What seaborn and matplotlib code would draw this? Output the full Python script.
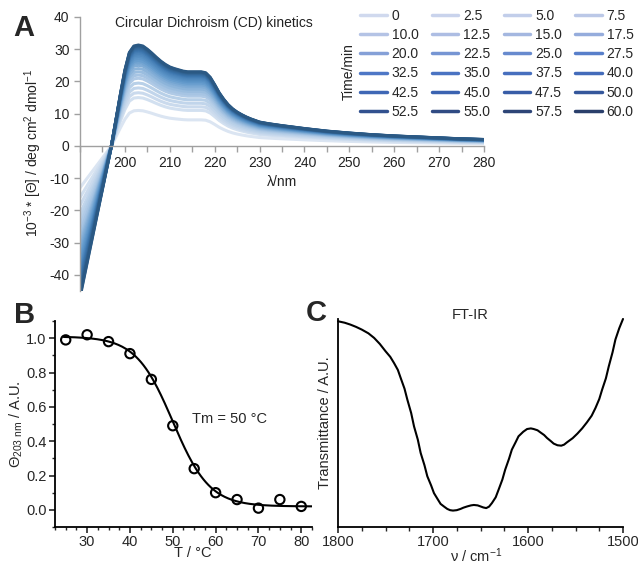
import numpy as np
import pandas as pd
import matplotlib
matplotlib.use("Agg")
import matplotlib.pyplot as plt
import seaborn as sns
from matplotlib.colors import LinearSegmentedColormap
from matplotlib.lines import Line2D
from matplotlib.ticker import MultipleLocator

# CD kinetics (panel A)
times = [0, 2.5, 5.0, 7.5, 10.0, 12.5, 15.0, 17.5, 20.0, 22.5, 25.0, 27.5,
         32.5, 35.0, 37.5, 40.0, 42.5, 45.0, 47.5, 50.0, 52.5, 55.0, 57.5, 60.0]
time_labels = ["0" if t == 0 else f"{t:.1f}" for t in times]
# ellipticity read at 203 nm (maximum) and at 190 nm for each time point
theta_203 = [11, 15, 16.5, 18, 19.5, 21, 22, 23, 24, 25, 25.8, 26.5,
             27.2, 27.8, 28.3, 28.8, 29.3, 29.7, 30, 30.3, 30.6, 30.9, 31.1, 31.3]
theta_190 = [-13, -16, -18.5, -21, -23, -25, -27, -29, -30.5, -32, -33.5, -35,
             -36.5, -38, -39, -40, -41, -42, -43, -44, -45, -45.5, -46.5, -47]
wavelength = list(range(190, 231)) + [232, 235, 240, 245, 250, 255, 260, 265, 270, 275, 280]
# spectrum at 60 min
cd_final = [-47, -40.2, -33.5, -26.8, -20.1, -13.4, -6.7, 0.0, 8, 16,
            23.5, 29, 31, 31.3, 31, 30, 28.8, 27.5, 26.3, 25.3,
            24.5, 24, 23.6, 23.2, 23, 23, 23, 23, 22.7, 21.3,
            19, 16.5, 14.5, 12.8, 11.5, 10.5, 9.7, 9, 8.4, 7.9,
            7.4, 6.9, 6.3, 5.4, 4.6, 4.0, 3.5, 3.1, 2.8, 2.5, 2.2, 2.0]

# thermal denaturation (panel B)
temp = [25, 30, 35, 40, 45, 50, 55, 60, 65, 70, 75, 80]
theta_norm = [0.99, 1.02, 0.98, 0.91, 0.76, 0.49, 0.24, 0.10, 0.06, 0.01, 0.06, 0.02]
fit_top, fit_bottom, fit_tm, fit_slope = 1.01, 0.02, 50.0, 4.3

# FT-IR (panel C)
ir_wavenumber = [1800, 1793, 1787, 1781, 1775, 1768, 1762, 1756, 1750, 1745, 1741, 1737, 1734,
                 1730, 1727, 1723, 1720, 1716, 1713, 1709, 1706, 1702, 1699, 1695, 1692, 1688,
                 1685, 1682, 1679, 1675, 1671, 1668, 1664, 1660, 1657, 1653, 1650, 1647, 1644,
                 1641, 1638, 1634, 1631, 1627, 1624, 1620, 1617, 1613, 1610, 1605, 1601, 1597,
                 1594, 1590, 1587, 1583, 1580, 1576, 1573, 1569, 1565, 1562, 1559, 1553, 1548,
                 1543, 1538, 1533, 1529, 1525, 1522, 1518, 1515, 1511, 1508, 1504, 1500]
ir_transmittance = [0.989, 0.982, 0.973, 0.962, 0.949, 0.931, 0.909, 0.880, 0.845, 0.818, 0.788,
                    0.755, 0.716, 0.665, 0.612, 0.548, 0.484, 0.420, 0.356, 0.297, 0.244, 0.200,
                    0.163, 0.133, 0.111, 0.097, 0.087, 0.081, 0.079, 0.081, 0.087, 0.093, 0.099,
                    0.104, 0.106, 0.104, 0.099, 0.094, 0.091, 0.098, 0.115, 0.143, 0.179, 0.228,
                    0.276, 0.328, 0.372, 0.408, 0.436, 0.458, 0.471, 0.474, 0.471, 0.465, 0.455,
                    0.442, 0.428, 0.413, 0.401, 0.393, 0.391, 0.396, 0.407, 0.427, 0.449, 0.474,
                    0.503, 0.535, 0.572, 0.615, 0.660, 0.715, 0.772, 0.840, 0.901, 0.955, 1.0]

sns.set_theme(style="ticks")
plt.rcParams['font.family'] = ['Liberation Sans', 'DejaVu Sans']
plt.rcParams['mathtext.fontset'] = 'custom'
plt.rcParams['mathtext.rm'] = 'Liberation Sans'
plt.rcParams['mathtext.it'] = 'Liberation Sans:italic'
plt.rcParams['axes.unicode_minus'] = False
plt.rcParams['font.size'] = 10

fig = plt.figure(figsize=(6.38, 5.7), dpi=100)

# Panel A
rows = []
cd_final_arr = np.array(cd_final)
for t, lab, top, low in zip(times, time_labels, theta_203, theta_190):
    vals = np.where(cd_final_arr >= 0, cd_final_arr * top / max(cd_final),
                    cd_final_arr * low / cd_final[0])
    for w, v in zip(wavelength, vals):
        rows.append({'time': lab, 'wl': w, 'theta': v})
cd = pd.DataFrame(rows)

plot_cmap = LinearSegmentedColormap.from_list(
    'cdplot', ["#dbe5f2", "#a9c6e4", "#6199cc", "#3c76ae", "#2b5984"])
legend_cmap = LinearSegmentedColormap.from_list(
    'cdleg', ["#d0d9ee", "#a7b9e1", "#5079c8", "#3a62b0", "#2a3f6b"])
n = len(times)
plot_pal = {lab: plot_cmap(i / (n - 1)) for i, lab in enumerate(time_labels)}

axA = fig.add_axes([0.1254, 0.4895, 0.6332, 0.4807])
sns.lineplot(data=cd, x='wl', y='theta', hue='time', hue_order=time_labels,
             palette=plot_pal, lw=2.2, legend=False, ax=axA)
axA.set_xlim(190, 280)
axA.set_ylim(-45, 40)
axA.spines['top'].set_visible(False)
axA.spines['right'].set_visible(False)
axA.spines['bottom'].set_position(('data', 0))
for s in ['left', 'bottom']:
    axA.spines[s].set_color('#a0a0a0')
    axA.spines[s].set_linewidth(1.0)
axA.set_xticks(range(200, 281, 10))
axA.xaxis.set_minor_locator(MultipleLocator(5))
axA.set_yticks(range(-40, 41, 10))
axA.tick_params(axis='both', which='both', colors='#a0a0a0', labelcolor='#222222',
                labelsize=10, length=4, width=1, direction='out')
axA.set_xlabel('')
axA.set_ylabel('')
axA.text(235, -11.2, 'λ/nm', ha='center', va='center', fontsize=10, color='#222222')
axA.text(219.8, 38, 'Circular Dichroism (CD) kinetics', ha='center', va='center',
         fontsize=10, color='#222222')
fig.text(0.052, 0.732, '10$^{-3}$ * [Θ] / deg cm$^{2}$ dmol$^{-1}$', rotation=90,
         ha='center', va='center', fontsize=10, color='#222222')

handles = [Line2D([], [], color=legend_cmap(i / (n - 1)), lw=2.5) for i in range(n)]
order = [r * 4 + c for c in range(4) for r in range(6)]
fig.legend([handles[i] for i in order], [time_labels[i] for i in order], ncol=4,
           loc='upper left', bbox_to_anchor=(0.565, 0.985), frameon=False, fontsize=10,
           handlelength=1.9, handletextpad=0.35, columnspacing=0.95, labelspacing=0.38,
           borderaxespad=0, borderpad=0)
fig.text(0.547, 0.875, 'Time/min', rotation=90, ha='center', va='center',
         fontsize=10, color='#222222')
fig.text(0.038, 0.951, 'A', ha='center', va='center', fontsize=21, fontweight='bold')

# Panel B
axB = fig.add_axes([0.0862, 0.0754, 0.4028, 0.3614])
t_fit = np.linspace(24.5, 82.5, 200)
y_fit = fit_bottom + (fit_top - fit_bottom) / (1 + np.exp((t_fit - fit_tm) / fit_slope))
sns.lineplot(x=t_fit, y=y_fit, color='black', lw=1.5, ax=axB)
sns.scatterplot(x=temp, y=theta_norm, marker='o', s=45, facecolor='none',
                edgecolor='black', linewidth=1.5, ax=axB, zorder=3)
axB.set_xlim(22.5, 82.5)
axB.set_ylim(-0.1, 1.1)
axB.spines['top'].set_visible(False)
axB.spines['right'].set_visible(False)
for s in ['left', 'bottom']:
    axB.spines[s].set_linewidth(1.3)
    axB.spines[s].set_color('black')
axB.xaxis.set_major_locator(MultipleLocator(10))
axB.xaxis.set_minor_locator(MultipleLocator(2.5))
axB.yaxis.set_major_locator(MultipleLocator(0.2))
axB.yaxis.set_minor_locator(MultipleLocator(0.1))
axB.yaxis.set_major_formatter(matplotlib.ticker.FormatStrFormatter('%.1f'))
axB.tick_params(which='major', length=4, width=1.2, labelsize=10.5, direction='out', pad=2)
axB.tick_params(which='minor', length=2.5, width=1.0, direction='out')
axB.set_xlabel('T / °C', fontsize=10.5)
axB.xaxis.set_label_coords(0.537, -0.093)
axB.set_ylabel('Θ$_{\\mathrm{203\\ nm}}$ / A.U.', fontsize=10.5)
axB.yaxis.set_label_coords(-0.115, 0.5)
axB.text(54.6, 0.53, 'Tm = 50 °C', ha='left', va='center', fontsize=10.5)
fig.text(0.039, 0.447, 'B', ha='center', va='center', fontsize=21, fontweight='bold')

# Panel C
axC = fig.add_axes([0.5298, 0.0754, 0.4467, 0.365])
sns.lineplot(x=ir_wavenumber, y=ir_transmittance, color='black', lw=1.5, ax=axC,
             sort=False, clip_on=False)
axC.set_xlim(1800, 1500)
axC.set_ylim(0, 1.0)
axC.spines['top'].set_visible(False)
axC.spines['right'].set_visible(False)
for s in ['left', 'bottom']:
    axC.spines[s].set_linewidth(1.3)
    axC.spines[s].set_color('black')
axC.set_yticks([])
axC.xaxis.set_major_locator(MultipleLocator(100))
axC.xaxis.set_minor_locator(MultipleLocator(25))
axC.tick_params(which='major', length=4, width=1.2, labelsize=10.5, direction='out', pad=2)
axC.tick_params(which='minor', length=3, width=1.0, direction='out')
axC.set_xlabel('ν / cm$^{-1}$', fontsize=10.5)
axC.xaxis.set_label_coords(0.484, -0.092)
axC.set_ylabel('Transmittance / A.U.', fontsize=10.5)
axC.yaxis.set_label_coords(-0.022, 0.5)
axC.text(0.463, 1.02, 'FT-IR', transform=axC.transAxes, ha='center', va='center', fontsize=10.5)
fig.text(0.495, 0.451, 'C', ha='center', va='center', fontsize=21, fontweight='bold')

fig.savefig('out.png', dpi=100)
